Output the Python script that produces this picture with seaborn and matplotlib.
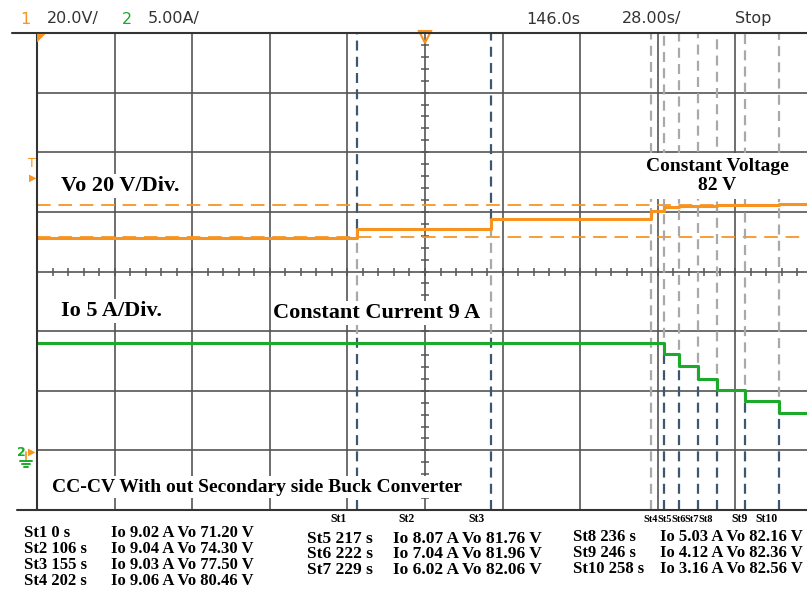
import matplotlib
matplotlib.use("Agg")
import matplotlib.pyplot as plt
import seaborn as sns
import numpy as np
import pandas as pd
from matplotlib.lines import Line2D

# ---------------- data ----------------
# scope time (s from left edge of screen) where each stage starts
step_t = [0.0, 115.5, 163.8, 221.5, 226.2, 231.6, 238.5, 245.4, 255.5, 267.7]
stage_names = ["St1", "St2", "St3", "St4", "St5", "St6", "St7", "St8", "St9", "St10"]
stage_time_s = [0, 106, 155, 202, 217, 222, 229, 236, 246, 258]
io_vals = [9.02, 9.04, 9.03, 9.06, 8.07, 7.04, 6.02, 5.03, 4.12, 3.16]
vo_vals = [71.20, 74.30, 77.50, 80.46, 81.76, 81.96, 82.06, 82.16, 82.36, 82.56]
# current steps start with St5 (current stays ~9 A through St4)
io_step_t = [0.0, 226.2, 231.6, 238.5, 245.4, 255.5, 267.7]
io_trace = [9.03, 8.07, 7.04, 6.02, 5.03, 4.12, 3.16]
cursor_v = [82.4, 71.6]

volts_per_div = 20.0
amps_per_div = 5.0
sec_per_div = 28.0
gnd_div = 1.0

# ---------------- figure geometry ----------------
W, H = 807, 589
fig = plt.figure(figsize=(W / 100, H / 100), dpi=100)
sns.set_style("white")
L, T, B = 37, 33, 510
xdivpx = 77.6
xmax = (W - L) / xdivpx * sec_per_div
ax = fig.add_axes([L / W, 1 - B / H, (W - L) / W, (B - T) / H])
ax.set_facecolor("white")
for s in ax.spines.values():
    s.set_visible(False)

def fx(x):
    return x / W

def fy(y):
    return 1 - y / H

grid_c = "#555555"
for k in range(1, 10):
    ax.axvline(k * sec_per_div, color=grid_c, lw=1.2, zorder=1)
for k in range(1, 8):
    ax.axhline(k, color=grid_c, lw=1.2, zorder=1)

# center axis tick marks
cx = 5 * sec_per_div
yt = np.arange(0.2, 8, 0.2)
ax.plot([cx] * len(yt), yt, ls="none", marker="_", ms=6, mew=1.1, color=grid_c, zorder=1)
xt = np.arange(sec_per_div / 5, xmax, sec_per_div / 5)
ax.plot(xt, [4] * len(xt), ls="none", marker="|", ms=6, mew=1.1, color=grid_c, zorder=1)

# borders
fig.add_artist(Line2D([fx(12), 1], [fy(T), fy(T)], color="#333333", lw=1.5))
fig.add_artist(Line2D([fx(17), 1], [fy(B), fy(B)], color="#333333", lw=1.5))
fig.add_artist(Line2D([fx(L), fx(L)], [fy(T), fy(B)], color="#333333", lw=1.5))

# cursor lines (orange dashed)
orange = "#F7931E"
green = "#1BAA2A"
for cv in cursor_v:
    ax.axhline(gnd_div + cv / volts_per_div, color=orange, lw=1.4,
               dashes=(7, 4), alpha=0.9, zorder=2)

# traces
v_df = pd.DataFrame({"t": step_t + [xmax],
                     "y": [gnd_div + v / volts_per_div for v in vo_vals + [vo_vals[-1]]]})
i_df = pd.DataFrame({"t": io_step_t + [xmax],
                     "y": [gnd_div + i / amps_per_div for i in io_trace + [io_trace[-1]]]})

# stage marker lines
navy = "#3F5670"
gray = "#A9A9A9"
def vseg(t, y0, y1, c):
    ax.plot([t, t], [y0, y1], color=c, lw=1.6, dashes=(4.5, 2.8), zorder=3)

for k, t in enumerate(step_t):
    vlev = gnd_div + vo_vals[k] / volts_per_div
    ilev = gnd_div + io_vals[k] / amps_per_div
    if k == 0:
        continue
    if k in (1, 2):
        vseg(t, vlev, 8, navy)
        vseg(t, 2.95, vlev, gray)
        vseg(t, 0, 2.95, navy)
    elif k == 3:
        vseg(t, 0, 8, gray)
    else:
        vseg(t, ilev, 8, gray)
        vseg(t, 0, ilev, navy)

sns.lineplot(data=v_df, x="t", y="y", drawstyle="steps-post", color=orange,
             lw=2.2, estimator=None, sort=False, ax=ax, zorder=5)
sns.lineplot(data=i_df, x="t", y="y", drawstyle="steps-post", color=green,
             lw=2.2, estimator=None, sort=False, ax=ax, zorder=5)
ax.set_xlabel("")
ax.set_ylabel("")
ax.set_xticks([])
ax.set_yticks([])
ax.set_xlim(0, xmax)
ax.set_ylim(0, 8)

# markers on the scope screen
ax.plot([cx], [8 - 0.07], marker="v", ms=8, mfc="none", mec=orange, mew=1.5,
        clip_on=False, zorder=6)
fig.text(fx(41), fy(38), "\u25E4", color=orange, fontsize=8, ha="center", va="center")
fig.text(fx(32), fy(163), "T", color=orange, fontsize=9, ha="center", va="center")
fig.text(fx(33), fy(178), "\u25B6", color=orange, fontsize=7, ha="center", va="center")
fig.text(fx(21), fy(452), "2", color=green, fontsize=9, fontweight="bold",
         ha="center", va="center")
fig.text(fx(32), fy(452), "\u25B6", color=orange, fontsize=7, ha="center", va="center")
fig.add_artist(Line2D([fx(26), fx(26)], [fy(452), fy(460)], color=orange, lw=1.2))
for dx, yy in [(6, 461), (4, 464), (2, 467)]:
    fig.add_artist(Line2D([fx(26 - dx), fx(26 + dx)], [fy(yy), fy(yy)], color=green, lw=1.4))

# header
hdr = dict(fontsize=11.5, va="center", family="DejaVu Sans")
fig.text(fx(20), fy(19), "1", color=orange, **hdr)
fig.text(fx(47), fy(19), "20.0V/", color="#333333", **hdr)
fig.text(fx(122), fy(19), "2", color=green, **hdr)
fig.text(fx(148), fy(19), "5.00A/", color="#333333", **hdr)
fig.text(fx(526), fy(19), "146.0s", color="#333333", **hdr)
fig.text(fx(622), fy(19), "28.00s/", color="#333333", **hdr)
fig.text(fx(735), fy(19), "Stop", color="#333333", **hdr)

# annotations (text boxes with white fill, as pasted on the screenshot)
serif = dict(family="Liberation Serif", fontweight="bold", color="black", va="center")
box = dict(facecolor="white", edgecolor="none", pad=1.5)
fig.text(fx(61), fy(186), "Vo 20 V/Div.", fontsize=16, bbox=box, **serif)
fig.text(fx(717), fy(176), "Constant Voltage\n82 V", fontsize=14, ha="center",
         multialignment="center", linespacing=1.1,
         bbox=dict(facecolor="white", edgecolor="none", pad=4), **serif)
fig.text(fx(61), fy(311), "Io 5 A/Div.", fontsize=16, bbox=box, **serif)
fig.text(fx(377), fy(313), "Constant Current 9 A", fontsize=16, ha="center", bbox=box, **serif)
fig.text(fx(52), fy(487), "CC-CV With out Secondary side Buck Converter", fontsize=14,
         bbox=box, **serif)

# small stage labels under the screen
lab_x = [339, 407, 477, 651, 665, 678.5, 691.5, 705.5, 740, 767]
lab_fs = [8.5, 8.5, 8.5, 7.5, 7.5, 7.5, 7.5, 7.5, 8.5, 8.5]
for name, x, fs in zip(stage_names, lab_x, lab_fs):
    fig.text(fx(x), fy(519), name, fontsize=fs, ha="center", **serif)

# table of stage values
def row(i):
    return f"{stage_names[i]} {stage_time_s[i]} s", f"Io {io_vals[i]:.2f} A Vo {vo_vals[i]:.2f} V"

cols = [
    (range(0, 4), 24, 111, [533, 549, 565, 581], 12),
    (range(4, 7), 307, 393, [539, 554, 570], 12.5),
    (range(7, 10), 573, 660, [537, 553, 569], 12),
]
for idxs, xs, xi, ys, fsz in cols:
    for i, y in zip(idxs, ys):
        a, b = row(i)
        fig.text(fx(xs), fy(y), a, fontsize=fsz, **serif)
        fig.text(fx(xi), fy(y), b, fontsize=fsz, **serif)

fig.savefig("out.png", dpi=100, facecolor="white")
